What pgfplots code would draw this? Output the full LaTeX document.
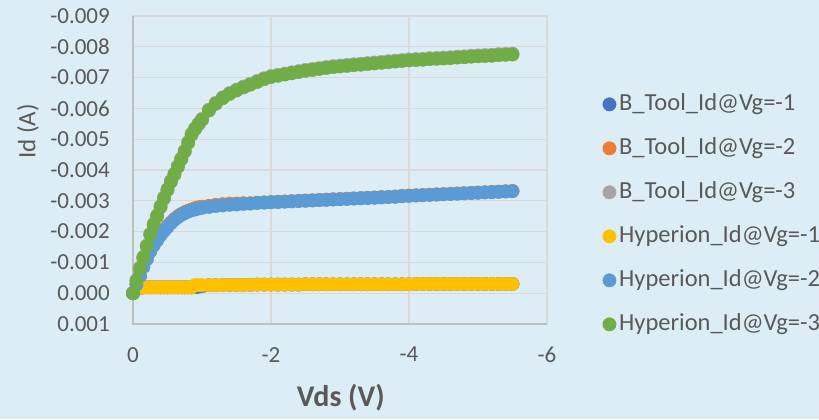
\documentclass[border=0pt]{standalone}
\usepackage{pgfplots}
\pgfplotsset{compat=1.18}
\usepackage{pgfplotstable}
\usepackage{fontspec}
\setmainfont{Carlito}
\definecolor{bg}{HTML}{DDEDF5}
\definecolor{gridc}{HTML}{D9D9D9}
\definecolor{axc}{HTML}{BFBFBF}
\definecolor{txt}{HTML}{595959}
\definecolor{c1}{HTML}{4472C4}
\definecolor{c2}{HTML}{ED7D31}
\definecolor{c3}{HTML}{A5A5A5}
\definecolor{c4}{HTML}{FFC000}
\definecolor{c5}{HTML}{5B9BD5}
\definecolor{c6}{HTML}{70AD47}
\pgfplotstableread{
vds bt1 bt2 bt3 hy1 hy2 hy3
0 0 0 0 0 0 0
-0.05 -0.00012 -0.00028 -0.00042 -0.00012 -0.00028 -0.00040
-0.10 -0.00017 -0.00056 -0.00083 -0.00017 -0.00055 -0.00080
-0.15 -0.00019 -0.00087 -0.00118 -0.00019 -0.00085 -0.00115
-0.20 -0.00019 -0.00113 -0.00155 -0.00019 -0.00110 -0.00152
-0.25 -0.00019 -0.00138 -0.00193 -0.00019 -0.00135 -0.00190
-0.30 -0.00019 -0.00158 -0.00225 -0.00019 -0.00155 -0.00222
-0.35 -0.00019 -0.00175 -0.00253 -0.00019 -0.00172 -0.00250
-0.40 -0.00019 -0.00191 -0.00283 -0.00019 -0.00188 -0.00280
-0.45 -0.00019 -0.00205 -0.00311 -0.00019 -0.00202 -0.00308
-0.50 -0.00019 -0.00218 -0.00338 -0.00019 -0.00215 -0.00335
-0.55 -0.00019 -0.00230 -0.00365 -0.00019 -0.00227 -0.00362
-0.60 -0.00019 -0.00241 -0.00388 -0.00019 -0.00238 -0.00385
-0.65 -0.00019 -0.00250 -0.00413 -0.00019 -0.00247 -0.00410
-0.70 -0.00019 -0.00257 -0.00438 -0.00019 -0.00254 -0.00435
-0.75 -0.00019 -0.00263 -0.00463 -0.00019 -0.00260 -0.00460
-0.80 -0.00019 -0.00268 -0.00491 -0.00019 -0.00265 -0.00488
-0.85 -0.00019 -0.00272 -0.00518 -0.00019 -0.00269 -0.00515
-0.90 -0.00020 -0.00276 -0.00536 -0.00026 -0.00272 -0.00533
-0.95 -0.00021 -0.00279 -0.00551 -0.00026 -0.00275 -0.00548
-1.00 -0.00023 -0.00281 -0.00566 -0.00026 -0.00277 -0.00563
-1.1 -0.00026 -0.00284 -0.00596 -0.00026 -0.00280 -0.00593
-1.2 -0.00026 -0.00287 -0.00618 -0.00026 -0.00283 -0.00615
-1.3 -0.00027 -0.00289 -0.00636 -0.00027 -0.00285 -0.00633
-1.4 -0.00027 -0.00291 -0.00650 -0.00027 -0.00287 -0.00647
-1.5 -0.00027 -0.00291 -0.00661 -0.00027 -0.00288 -0.00658
-1.6 -0.00027 -0.00292 -0.00671 -0.00027 -0.00290 -0.00668
-1.7 -0.00027 -0.00292 -0.00680 -0.00027 -0.00291 -0.00677
-1.8 -0.00028 -0.00294 -0.00689 -0.00028 -0.00293 -0.00686
-1.9 -0.00028 -0.00295 -0.00698 -0.00028 -0.00294 -0.00695
-2.0 -0.00028 -0.00296 -0.00705 -0.00028 -0.00295 -0.00702
-2.1 -0.00028 -0.00297 -0.00709 -0.00028 -0.00296 -0.00706
-2.2 -0.00028 -0.00298 -0.00713 -0.00028 -0.00297 -0.00710
-2.3 -0.00028 -0.00299 -0.00717 -0.00028 -0.00298 -0.00714
-2.4 -0.00028 -0.00300 -0.00721 -0.00028 -0.00299 -0.00718
-2.5 -0.00029 -0.00301 -0.00725 -0.00029 -0.00300 -0.00722
-2.6 -0.00029 -0.00302 -0.00728 -0.00029 -0.00301 -0.00725
-2.7 -0.00029 -0.00303 -0.00731 -0.00029 -0.00302 -0.00728
-2.8 -0.00029 -0.00304 -0.00734 -0.00029 -0.00303 -0.00731
-2.9 -0.00029 -0.00305 -0.00737 -0.00029 -0.00304 -0.00734
-3.0 -0.00029 -0.00306 -0.00739 -0.00029 -0.00305 -0.00736
-3.1 -0.00029 -0.00307 -0.00741 -0.00029 -0.00306 -0.00738
-3.2 -0.00029 -0.00308 -0.00743 -0.00029 -0.00307 -0.00740
-3.3 -0.00029 -0.00309 -0.00745 -0.00029 -0.00308 -0.00742
-3.4 -0.00029 -0.00310 -0.00747 -0.00029 -0.00309 -0.00744
-3.5 -0.00029 -0.00311 -0.00749 -0.00029 -0.00310 -0.00746
-3.6 -0.00029 -0.00312 -0.00751 -0.00029 -0.00311 -0.00748
-3.7 -0.00029 -0.00313 -0.00753 -0.00029 -0.00312 -0.00750
-3.8 -0.00029 -0.00314 -0.00755 -0.00029 -0.00313 -0.00752
-3.9 -0.00029 -0.00316 -0.00757 -0.00029 -0.00315 -0.00754
-4.0 -0.00029 -0.00317 -0.00759 -0.00029 -0.00316 -0.00756
-4.1 -0.00030 -0.00318 -0.00760 -0.00030 -0.00317 -0.00757
-4.2 -0.00030 -0.00319 -0.00761 -0.00030 -0.00318 -0.00758
-4.3 -0.00030 -0.00320 -0.00763 -0.00030 -0.00319 -0.00760
-4.4 -0.00030 -0.00321 -0.00764 -0.00030 -0.00320 -0.00761
-4.5 -0.00030 -0.00322 -0.00765 -0.00030 -0.00321 -0.00762
-4.6 -0.00030 -0.00323 -0.00766 -0.00030 -0.00322 -0.00763
-4.7 -0.00030 -0.00324 -0.00768 -0.00030 -0.00323 -0.00765
-4.8 -0.00030 -0.00325 -0.00769 -0.00030 -0.00324 -0.00766
-4.9 -0.00030 -0.00326 -0.00771 -0.00030 -0.00325 -0.00768
-5.0 -0.00030 -0.00327 -0.00772 -0.00030 -0.00326 -0.00769
-5.1 -0.00030 -0.00328 -0.00773 -0.00030 -0.00327 -0.00770
-5.2 -0.00030 -0.00329 -0.00774 -0.00030 -0.00328 -0.00771
-5.3 -0.00030 -0.00330 -0.00776 -0.00030 -0.00329 -0.00773
-5.4 -0.00030 -0.00331 -0.00777 -0.00030 -0.00330 -0.00774
-5.5 -0.00030 -0.00332 -0.00778 -0.00030 -0.00331 -0.00775
}\data
\begin{document}
\begin{tikzpicture}[x=1bp,y=1bp]
\path[use as bounding box, fill=bg] (0,0) rectangle (819,419);
\begin{axis}[
  at={(133bp,95bp)}, anchor=south west,
  scale only axis, width=414bp, height=308bp,
  x dir=reverse, y dir=reverse,
  xmin=-6, xmax=0, ymin=-0.009, ymax=0.001,
  xtick={-6,-4,-2,0}, xticklabels={-6,-4,-2,0},
  ytick={-0.009,-0.008,-0.007,-0.006,-0.005,-0.004,-0.003,-0.002,-0.001,0,0.001},
  yticklabels={-0.009,-0.008,-0.007,-0.006,-0.005,-0.004,-0.003,-0.002,-0.001,0.000,0.001},
  scaled y ticks=false, scaled x ticks=false,
  grid=major, major grid style={draw=gridc, line width=1.2bp},
  axis line style={draw=gridc, line width=1.2bp},
  major tick length=0pt, tick style={draw=none},
  ticklabel style={font=\fontsize{23bp}{27bp}\selectfont, text=txt},
  xticklabel style={inner sep=0pt, yshift=-23bp},
  yticklabel style={inner sep=0pt, xshift=-23bp},
  xlabel={Vds (V)}, ylabel={Id (A)},
  xlabel style={font=\fontsize{30bp}{34bp}\selectfont\bfseries, text=txt, at={(axis description cs:0.502,-0.240)}, anchor=center},
  ylabel style={font=\fontsize{25bp}{29bp}\selectfont, text=txt, at={(axis description cs:-0.254,0.625)}, anchor=center},
  clip=false,
  legend cell align=left,
  legend style={draw=none, fill=none, at={(axis description cs:1.127,0.756)}, anchor=north west,
    font=\fontsize{24.5bp}{28bp}\selectfont, text=txt, row sep=22bp,
    nodes={inner ysep=0pt, inner xsep=3bp, text height=17bp, text depth=5bp}},
  legend image code/.code={\draw[#1] plot coordinates {(6.5bp,0bp)};},
  every axis plot/.append style={only marks, mark=*, mark size=6.7bp},
]
\draw[axc, line width=1.5bp] (axis cs:0,-0.009) -- (axis cs:0,0.001) -- (axis cs:-6,0.001);
\addplot[c1, mark options={draw=none, fill=c1}] table[x=vds, y=bt1] {\data};
\addlegendentry{B\_Tool\_Id@Vg=-1}
\addplot[c2, mark options={draw=none, fill=c2}] table[x=vds, y=bt2] {\data};
\addlegendentry{B\_Tool\_Id@Vg=-2}
\addplot[c3, mark options={draw=none, fill=c3}] table[x=vds, y=bt3] {\data};
\addlegendentry{B\_Tool\_Id@Vg=-3}
\addplot[c4, mark options={draw=none, fill=c4}] table[x=vds, y=hy1] {\data};
\addlegendentry{Hyperion\_Id@Vg=-1}
\addplot[c5, mark options={draw=none, fill=c5}] table[x=vds, y=hy2] {\data};
\addlegendentry{Hyperion\_Id@Vg=-2}
\addplot[c6, mark options={draw=none, fill=c6}] table[x=vds, y=hy3] {\data};
\addlegendentry{Hyperion\_Id@Vg=-3}
\end{axis}
\end{tikzpicture}
\end{document}
